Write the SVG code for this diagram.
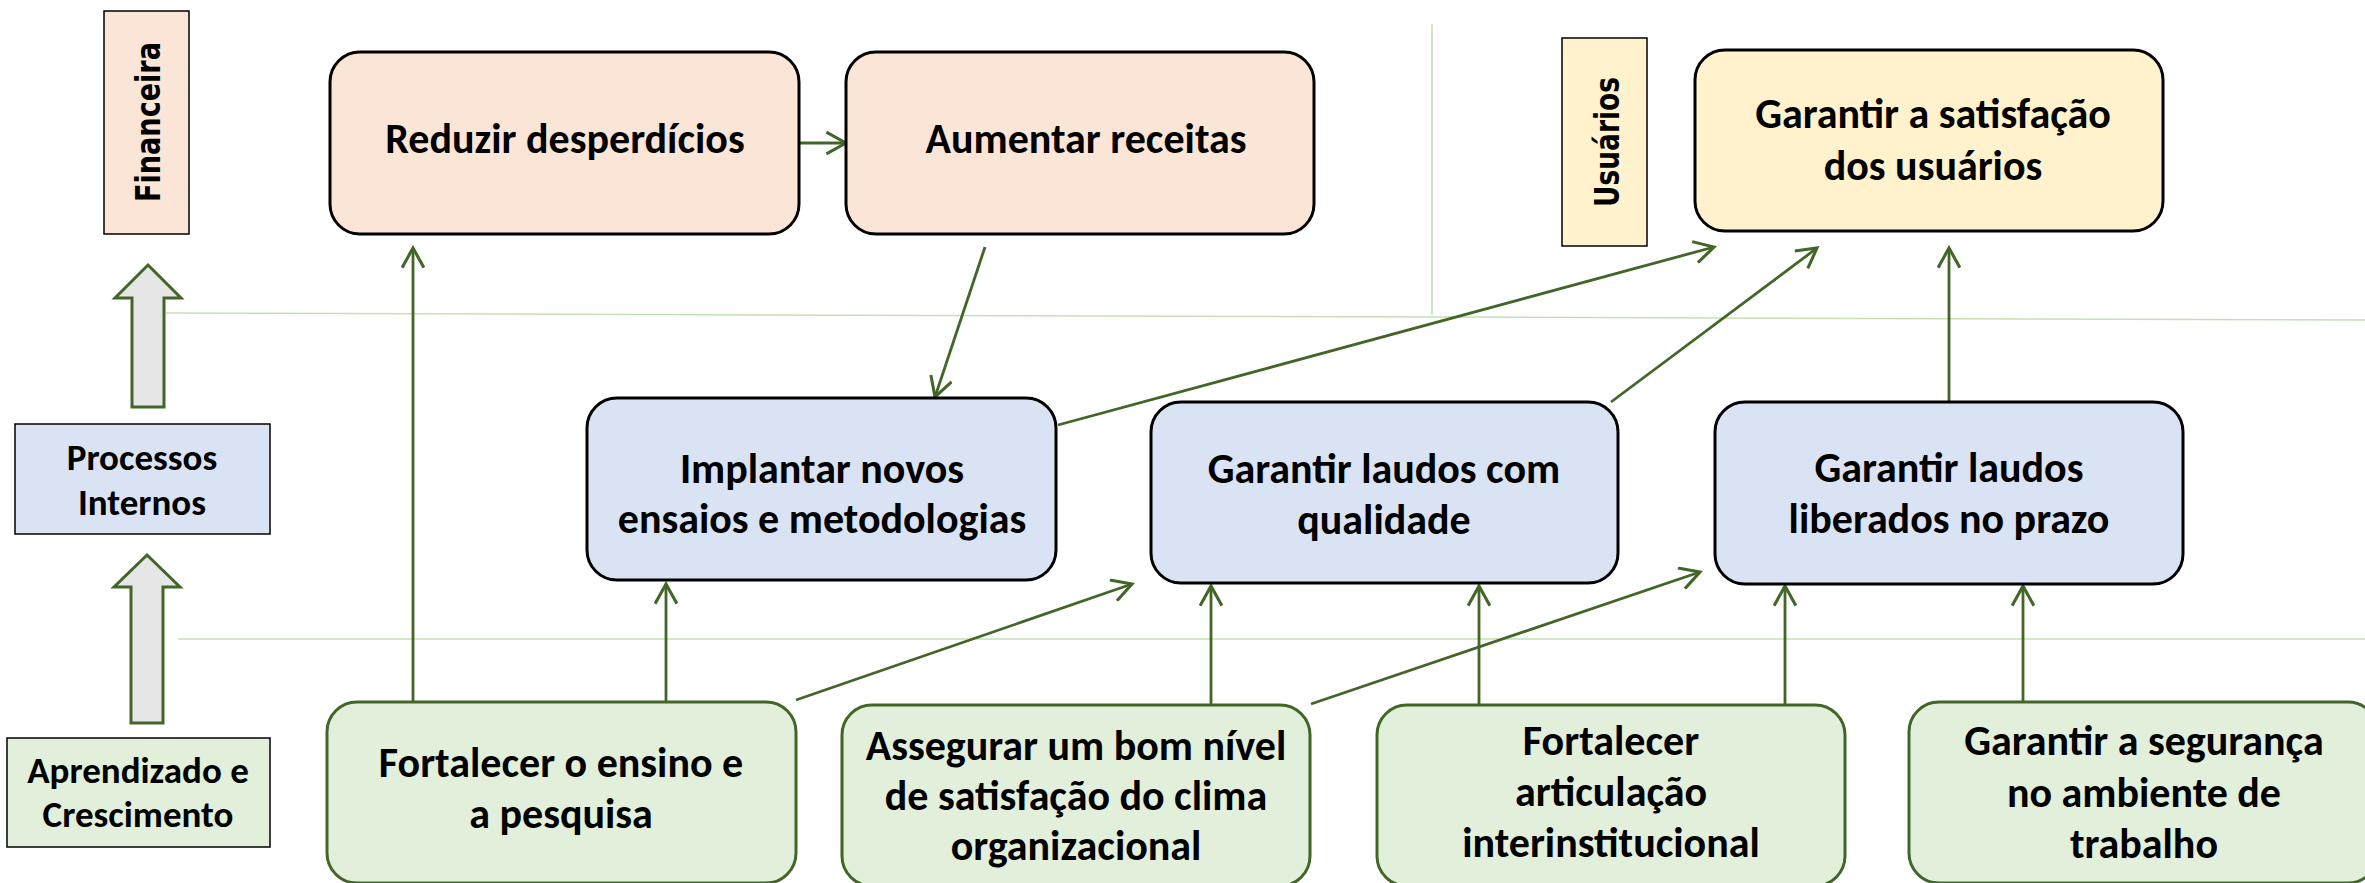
<svg xmlns="http://www.w3.org/2000/svg" width="2365" height="883" viewBox="0 0 2365 883">
<defs>
<marker id="ah" markerUnits="userSpaceOnUse" markerWidth="24" markerHeight="24" viewBox="0 0 20 22" refX="18" refY="11" orient="auto">
<path d="M0,1 L18,11 L0,21" fill="none" stroke="#416628" stroke-width="2.8"/>
</marker>
<style>
.node text, .lab text { font-family: Carlito, Lato, "Liberation Sans", sans-serif; font-weight: bold; fill: #000; text-anchor: middle; }
.node text { font-size: 42px; }
.lab text { font-size: 37px; }
.vlab text { font-family: "DejaVu Sans", Verdana, sans-serif; font-weight: bold; font-size: 33px; fill: #000; text-anchor: middle; }
.fin { fill: #fbe5d6; stroke: #000; stroke-width: 3; }
.usr { fill: #fff2cc; stroke: #000; stroke-width: 3; }
.proc { fill: #dae3f3; stroke: #000; stroke-width: 3; }
.lrn { fill: #e2efda; stroke: #416628; stroke-width: 3; }
.lbox { stroke: #000; stroke-width: 1.5; }
.sep { stroke: #c5e0b4; stroke-width: 1.5; fill: none; }
.conn line { stroke: #416628; stroke-width: 2.8; marker-end: url(#ah); }
.barrow { fill: #e6e6e6; stroke: #416628; stroke-width: 3; }
</style>
</defs>
<rect width="2365" height="883" fill="#fff"/>

<g id="separators">
<line class="sep" x1="166" y1="313" x2="2365" y2="320"/>
<line class="sep" x1="1432" y1="24" x2="1432" y2="315"/>
<line class="sep" x1="178" y1="639" x2="2365" y2="639"/>
</g>

<g id="label-financeira" class="vlab">
<rect class="fin lbox" x="104" y="11" width="85" height="223"/>
<text transform="translate(160,122) rotate(-90)" textLength="160" lengthAdjust="spacingAndGlyphs">Financeira</text>
</g>
<g id="label-usuarios" class="vlab">
<rect class="usr lbox" x="1562" y="38" width="85" height="208"/>
<text transform="translate(1619,142) rotate(-90)" textLength="130" lengthAdjust="spacingAndGlyphs">Usuários</text>
</g>
<g id="label-processos" class="lab">
<rect class="proc lbox" x="15" y="424" width="255" height="110"/>
<text x="142" y="470">Processos</text>
<text x="142" y="515">Internos</text>
</g>
<g id="label-aprendizado" class="lab">
<rect class="lrn lbox" x="7" y="738" width="263" height="109" style="stroke:#000"/>
<text x="138" y="783">Aprendizado e</text>
<text x="138" y="827">Crescimento</text>
</g>

<g id="block-arrows">
<path class="barrow" d="M148,265 L181,298 L164,298 L164,407 L132,407 L132,298 L115,298 Z"/>
<path class="barrow" d="M147,555 L180,587 L163,587 L163,723 L131,723 L131,587 L114,587 Z"/>
</g>

<g id="connectors" class="conn">
<line x1="799" y1="143" x2="846" y2="143"/>
<line x1="985" y1="247" x2="935" y2="397"/>
<line x1="413" y1="702" x2="413" y2="248"/>
<line x1="666" y1="702" x2="666" y2="584"/>
<line x1="796" y1="700" x2="1132" y2="584"/>
<line x1="1211" y1="705" x2="1211" y2="586"/>
<line x1="1311" y1="704" x2="1700" y2="572"/>
<line x1="1479" y1="705" x2="1479" y2="586"/>
<line x1="1785" y1="705" x2="1785" y2="586"/>
<line x1="2023" y1="702" x2="2023" y2="586"/>
<line x1="1058" y1="425" x2="1714" y2="247"/>
<line x1="1611" y1="402" x2="1817" y2="248"/>
<line x1="1949" y1="402" x2="1949" y2="248"/>
</g>

<g id="n-reduzir" class="node">
<rect class="fin" x="330" y="52" width="469" height="182" rx="30"/>
<text x="565" y="153">Reduzir desperdícios</text>
</g>
<g id="n-aumentar" class="node">
<rect class="fin" x="846" y="52" width="468" height="182" rx="30"/>
<text x="1086" y="153">Aumentar receitas</text>
</g>
<g id="n-satisfacao" class="node">
<rect class="usr" x="1695" y="50" width="468" height="181" rx="30"/>
<text x="1933" y="128">Garantir a satisfação</text>
<text x="1933" y="180">dos usuários</text>
</g>
<g id="n-implantar" class="node">
<rect class="proc" x="587" y="398" width="469" height="182" rx="30"/>
<text x="822" y="483">Implantar novos</text>
<text x="822" y="533">ensaios e metodologias</text>
</g>
<g id="n-qualidade" class="node">
<rect class="proc" x="1151" y="402" width="467" height="181" rx="30"/>
<text x="1384" y="483">Garantir laudos com</text>
<text x="1384" y="534">qualidade</text>
</g>
<g id="n-prazo" class="node">
<rect class="proc" x="1715" y="402" width="468" height="182" rx="30"/>
<text x="1949" y="482">Garantir laudos</text>
<text x="1949" y="533">liberados no prazo</text>
</g>
<g id="n-ensino" class="node">
<rect class="lrn" x="327" y="702" width="469" height="181" rx="30"/>
<text x="561" y="777">Fortalecer o ensino e</text>
<text x="561" y="828">a pesquisa</text>
</g>
<g id="n-clima" class="node">
<rect class="lrn" x="842" y="705" width="468" height="181" rx="30"/>
<text x="1076" y="760">Assegurar um bom nível</text>
<text x="1076" y="810">de satisfação do clima</text>
<text x="1076" y="860">organizacional</text>
</g>
<g id="n-articulacao" class="node">
<rect class="lrn" x="1377" y="705" width="468" height="181" rx="30"/>
<text x="1611" y="755">Fortalecer</text>
<text x="1611" y="806">articulação</text>
<text x="1611" y="857">interinstitucional</text>
</g>
<g id="n-seguranca" class="node">
<rect class="lrn" x="1909" y="702" width="469" height="181" rx="30"/>
<text x="2144" y="755">Garantir a segurança</text>
<text x="2144" y="807">no ambiente de</text>
<text x="2144" y="858">trabalho</text>
</g>
</svg>
